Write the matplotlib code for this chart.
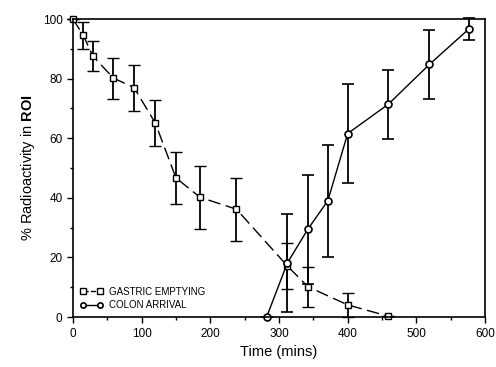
import numpy as np
import matplotlib.pyplot as plt
from matplotlib.lines import Line2D

plt.rcParams['font.family'] = ['Liberation Sans', 'DejaVu Sans']
plt.rcParams['mathtext.fontset'] = 'custom'
plt.rcParams['mathtext.bf'] = 'Liberation Sans:bold'

# gastric emptying
t_gastric = [0, 15, 29, 59, 89, 120, 150, 185, 238, 312, 342, 400, 459]
y_gastric = [100, 94.6, 87.6, 80.2, 77, 65.1, 46.7, 40.2, 36.2, 17.2, 10.2, 4.1, 0.3]
e_gastric = [0, 4.5, 4.9, 6.9, 7.7, 7.8, 8.8, 10.6, 10.5, 7.7, 6.7, 4.0, 0]

# colon arrival
t_colon = [282, 312, 342, 371, 400, 459, 519, 576]
y_colon = [0, 18.1, 29.5, 39, 61.6, 71.4, 84.8, 96.6]
e_colon = [0, 16.5, 18.3, 18.8, 16.5, 11.6, 11.5, 3.6]

fig = plt.figure(figsize=(4.96, 3.67), dpi=100)
ax = fig.add_axes([0.147, 0.136, 0.831, 0.812])

g_style = dict(color='black', lw=1.0, ls=(0, (9, 4)), marker='s', ms=4.5,
               mfc='white', mec='black', mew=1.0)
c_style = dict(color='black', lw=1.0, ls='-', marker='o', ms=5,
               mfc='white', mec='black', mew=1.2)

gl = ax.errorbar(t_gastric, y_gastric, yerr=e_gastric, capsize=4.5,
                 elinewidth=1.3, capthick=1.3, **g_style)
cl = ax.errorbar(t_colon, y_colon, yerr=e_colon, capsize=4.5,
                 elinewidth=1.3, capthick=1.3, **c_style)
for cont in (gl, cl):
    for art in cont.lines[0:1] + tuple(cont.lines[1]) + tuple(cont.lines[2]):
        art.set_clip_on(False)

ax.set_xlim(0, 600)
ax.set_ylim(0, 100)
ax.set_xticks(np.arange(0, 601, 100))
ax.set_xticks(np.arange(0, 601, 50), minor=True)
ax.set_yticks(np.arange(0, 101, 20))
ax.set_yticks(np.arange(0, 101, 10), minor=True)
ax.tick_params(which='both', direction='out', width=1.0, labelsize=8.5)
ax.tick_params(which='major', length=4)
ax.tick_params(which='minor', length=2.5)
for s in ax.spines.values():
    s.set_linewidth(1.2)

ax.set_xlabel('Time (mins)', fontsize=10.5)
ax.set_ylabel(r'% Radioactivity in $\mathbf{ROI}$', fontsize=10.5)

handles = [Line2D([], [], **dict(g_style, ls='--', ms=3.8)),
           Line2D([], [], **dict(c_style, ms=3.8))]
ax.legend(handles, ['GASTRIC EMPTYING', 'COLON ARRIVAL'], loc='lower left',
          frameon=False, fontsize=7, numpoints=2, handlelength=2.4,
          handletextpad=0.6, labelspacing=0.35, borderaxespad=0.3)

plt.savefig('out.png', dpi=100)
